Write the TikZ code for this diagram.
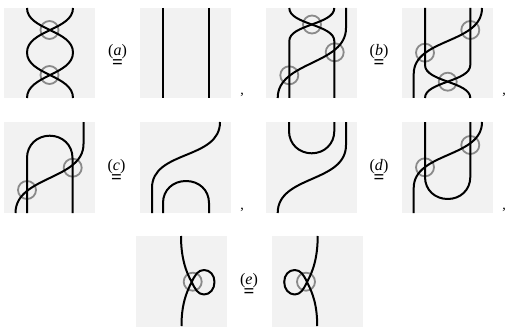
\documentclass[tikz,border=0pt]{standalone}
\usepackage{fontspec}
\setmainfont{Liberation Serif}
\tikzset{
  panel/.style={fill=panelgray,draw=none},
  strand/.style={draw=black,line width=2pt,line cap=butt,line join=round},
  ring/.style={draw=ringgray,line width=1.8pt,fill=none},
  lab/.style={inner sep=0pt,align=center,font=\fontsize{16}{13}\selectfont},
  comma/.style={inner sep=0pt,font=\fontsize{14}{14}\selectfont}
}
\definecolor{panelgray}{HTML}{F2F2F2}
\definecolor{ringgray}{HTML}{8A8A8A}
\newcommand{\eqbar}{{\fontsize{19}{13}\selectfont\bfseries =}}
\begin{document}
\begin{tikzpicture}[x=1pt,y=-1pt]
\useasboundingbox (0,0) rectangle (505,326);
% panels
\foreach \a/\b in {4/8,140/8,266/8,402/8,4/122,140/122,266/122,402/122,136/236,272/236}
  \fill[panel] (\a,\b) rectangle ++(91,90.5);
% rings
\foreach \a/\b in {49.5/30,49.5/75,312/24.5,334.7/52.3,289.3/75.3,470.3/30,425/52.7,447.7/81.7,72.7/167.7,27/190,470.3/145,425/167.3,192.7/281.7,306/281.7}
  \draw[ring] (\a,\b) circle (9);
% row 1, panel 1
\draw[strand] (27,8) .. controls (27,30) and (73,30) .. (73,52.5) .. controls (73,75) and (27,75) .. (27,98);
\draw[strand] (73,8) .. controls (73,30) and (27,30) .. (27,52.5) .. controls (27,75) and (73,75) .. (73,98);
% row 1, panel 2
\draw[strand] (163.3,8) -- (163.3,98);
\draw[strand] (208.5,8) -- (208.5,98);
% row 1, panel 3
\draw[strand] (289.3,8) .. controls (289.3,24.5) and (334.3,24.5) .. (334.3,41) -- (334.3,98);
\draw[strand] (334.3,8) .. controls (334.3,24.5) and (289.3,24.5) .. (289.3,41) -- (289.3,98);
\draw[strand] (346,8) -- (346,28) .. controls (346,65) and (277.7,61) .. (277.7,98);
% row 1, panel 4
\draw[strand] (425,8) -- (425,65) .. controls (425,81.7) and (470.3,81.7) .. (470.3,98);
\draw[strand] (470.3,8) -- (470.3,65) .. controls (470.3,81.7) and (425,81.7) .. (425,98);
\draw[strand] (482,8) .. controls (482,44) and (413.7,38) .. (413.7,74) -- (413.7,98);
% row 2, panel 1
\draw[strand] (27,213) -- (27,158) .. controls (27,145) and (37,135.7) .. (49.7,135.7) .. controls (62.5,135.7) and (72.5,145) .. (72.5,158) -- (72.5,213);
\draw[strand] (83.5,122) -- (83.5,144) .. controls (83.5,180) and (15.5,176) .. (15.5,213);
% row 2, panel 2
\draw[strand] (220,122) .. controls (220,160) and (152,150) .. (152,188) -- (152,213);
\draw[strand] (163,213) -- (163,203) .. controls (163,190) and (173,181) .. (186,181) .. controls (199,181) and (209,190) .. (209,203) -- (209,213);
% row 2, panel 3
\draw[strand] (289,122) -- (289,131) .. controls (289,144) and (299,153.3) .. (311.7,153.3) .. controls (324.3,153.3) and (334.3,144) .. (334.3,131) -- (334.3,122);
\draw[strand] (346,122) -- (346,145) .. controls (346,183) and (277.7,175) .. (277.7,213);
% row 2, panel 4
\draw[strand] (425,122) -- (425,177) .. controls (425,190) and (435,199) .. (447.7,199) .. controls (460.3,199) and (470.3,190) .. (470.3,177) -- (470.3,122);
\draw[strand] (482,122) .. controls (482,158) and (413.7,152) .. (413.7,188) -- (413.7,213);
% row 3, panel 1
\draw[strand] (181,236) .. controls (181,258) and (186,272) .. (191.7,282) .. controls (195,289) and (198,294.5) .. (204,294.5) .. controls (210,294.5) and (214.5,289) .. (214.5,282) .. controls (214.5,275) and (210,270) .. (204,270) .. controls (198,270) and (195,275) .. (191.7,282) .. controls (186,293) and (181.5,305) .. (181.5,326);
% row 3, panel 2
\draw[strand] (317.7,236) .. controls (317.7,258) and (312.7,272) .. (307,282) .. controls (303.7,289) and (300.7,294.5) .. (294.7,294.5) .. controls (288.7,294.5) and (284.2,289) .. (284.2,282) .. controls (284.2,275) and (288.7,270) .. (294.7,270) .. controls (300.7,270) and (303.7,275) .. (307,282) .. controls (312.7,293) and (317.2,305) .. (317.2,326);
% labels
\node[lab] (la) at (117.5,56) {(\textit{a})\\\eqbar};
\node[lab] (lb) at (379,56) {(\textit{b})\\\eqbar};
\node[lab] (lc) at (116.5,171) {(\textit{c})\\\eqbar};
\node[lab] (ld) at (379,171) {(\textit{d})\\\eqbar};
\node[lab] (le) at (249,285) {(\textit{e})\\\eqbar};
\node[comma] (c1) at (242,95) {,};
\node[comma] (c2) at (504,95) {,};
\node[comma] (c3) at (242,210) {,};
\node[comma] (c4) at (504,210) {,};
\end{tikzpicture}
\end{document}
